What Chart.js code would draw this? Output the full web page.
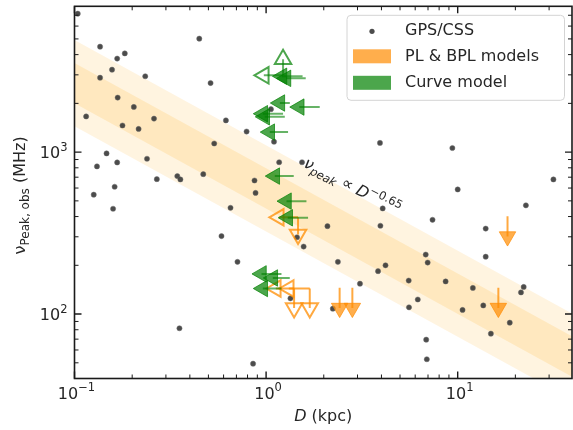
<!DOCTYPE html>
<html>
<head>
<meta charset="utf-8">
<script src="https://cdn.jsdelivr.net/npm/chart.js@4.4.1/dist/chart.umd.min.js"></script>
<style>
  html, body { margin: 0; padding: 0; background: #fff; }
</style>
</head>
<body>
<canvas id="chart" width="573" height="430"></canvas>
<script>
// GPS/CSS sources: distance (kpc) and observed peak frequency (MHz)
const gpsD = [0.104, 0.136, 0.183, 0.167, 0.157, 0.136, 0.234, 0.448, 0.513, 0.168,
              0.204, 0.115, 0.260, 0.178, 0.216, 0.617, 0.791, 0.536, 0.147, 0.167,
              0.239, 0.131, 0.269, 0.344, 0.357, 0.470, 0.162, 0.870, 0.881, 1.06,
              1.10, 0.126, 0.159, 0.652, 0.585, 0.709, 0.353, 0.855, 3.93, 9.38,
              1.17, 1.54, 31.6, 10.0, 4.06, 22.7, 7.39, 2.09, 3.95, 14.0,
              1.45, 1.57, 14.0, 6.81, 6.97, 2.37, 3.84, 4.20, 5.55, 8.65,
              3.09, 12.0, 22.1, 21.4, 6.19, 1.34, 5.57, 2.23, 10.6, 13.6,
              18.7, 14.9, 6.85, 6.90];
const gpsNu = [7160, 4480, 4070, 3780, 3230, 2880, 2940, 5020, 2670, 2170,
               1900, 1660, 1610, 1460, 1390, 1570, 1340, 1130, 982, 863,
               910, 816, 681, 711, 678, 731, 611, 668, 560, 1840,
               1160, 546, 447, 453, 303, 210, 81.7, 49.4, 1140, 1060,
               866, 866, 678, 588, 449, 469, 382, 349, 351, 337,
               298, 261, 226, 233, 208, 210, 184, 200, 161, 159,
               154, 145, 147, 136, 123, 125, 110, 108, 106, 113,
               88.5, 75.7, 69.5, 52.6];

// nu_peak ~ D^-0.65 relation, with its inner / outer scatter (dex)
const fitD = [0.1, 40];
const fitNuAt1kpc = 597;
const fitSlope = -0.65;
const innerDex = 0.125;
const outerDex = 0.266;

// Curve model: upper limits on D (arrow from D down to dTip)
const curveD   = [1.55, 1.61, 1.33, 1.905, 1.226, 1.252, 1.302, 1.394, 1.624, 1.656, 1.203, 1.329, 1.203];
const curveTip = [1.21, 1.27, 1.18, 1.49, 0.961, 0.984, 1.045, 1.110, 1.278, 1.297, 0.946, 1.084, 0.961];
const curveNu  = [2940, 2854, 2010, 1897, 1726, 1651, 1329, 711, 498, 393, 177, 167, 143.8];
// Curve model, open marker: D upper limit + nu lower limit
const curveOpenD = [1.226], curveOpenDTip = [0.973], curveOpenNu = [2980], curveOpenNuTip = [3750];

// PL & BPL models, open markers: D upper limit + nu upper limit
const plOpenD = [1.468, 1.40, 1.69], plOpenDTip = [1.165, 1.124, 1.313];
const plOpenNu = [396, 143.8, 143.8], plOpenNuTip = [310, 108.9, 108.9];
// PL & BPL models, filled: nu upper limit only
const plD = [2.42, 2.82, 16.3, 18.2];
const plNu = [145.2, 145.2, 145.2, 402];
const plNuTip = [108.9, 108.9, 108.9, 301];

const xTicks = [0.1, 1, 10];
const yTicks = [100, 1000];

const GREEN = 'rgba(0,128,0,0.7)', GREEN_LINE = 'rgba(0,128,0,0.6)';
const ORANGE = 'rgba(255,140,0,0.7)', ORANGE_LINE = 'rgba(255,140,0,0.75)';
const TXT = '#262626';
const FONT = '"DejaVu Sans", sans-serif';

const fitNu = d => fitNuAt1kpc * Math.pow(d, fitSlope);
const band = dex => fitD.map(d => ({ x: d, y: fitNu(d) * Math.pow(10, dex) }));

function arrow(p0, p1, rot, color, lineColor, filled) {
  return {
    type: 'line', data: [p0, p1], order: 1,
    borderColor: lineColor, borderWidth: 2, fill: false,
    pointStyle: 'triangle', pointRadius: [0, 9.5], pointHoverRadius: 0,
    pointRotation: [0, rot],
    pointBackgroundColor: filled ? color : 'rgba(0,0,0,0)',
    pointBorderColor: color, pointBorderWidth: filled ? 1 : 2
  };
}

const datasets = [
  { type: 'line', data: band(outerDex), borderWidth: 0, pointRadius: 0, fill: false, order: 20 },
  { type: 'line', data: band(-outerDex), borderWidth: 0, pointRadius: 0, fill: '-1',
    backgroundColor: 'rgba(255,165,0,0.12)', order: 20 },
  { type: 'line', data: band(innerDex), borderWidth: 0, pointRadius: 0, fill: false, order: 20 },
  { type: 'line', data: band(-innerDex), borderWidth: 0, pointRadius: 0, fill: '-1',
    backgroundColor: 'rgba(255,165,0,0.15)', order: 20 },
  { type: 'scatter', data: gpsD.map((d, i) => ({ x: d, y: gpsNu[i] })), order: 5,
    pointRadius: 2.6, backgroundColor: 'rgba(45,45,45,0.85)',
    borderColor: 'rgba(110,110,110,0.8)', borderWidth: 0.6 }
];

curveD.forEach((d, i) => datasets.push(
  arrow({ x: d, y: curveNu[i] }, { x: curveTip[i], y: curveNu[i] }, 270, GREEN, GREEN_LINE, true)));
curveOpenD.forEach((d, i) => {
  datasets.push(arrow({ x: d, y: curveOpenNu[i] }, { x: curveOpenDTip[i], y: curveOpenNu[i] }, 270, GREEN, GREEN_LINE, false));
  datasets.push(arrow({ x: d, y: curveOpenNu[i] }, { x: d, y: curveOpenNuTip[i] }, 0, GREEN, GREEN_LINE, false));
});
plOpenD.forEach((d, i) => {
  datasets.push(arrow({ x: d, y: plOpenNu[i] }, { x: plOpenDTip[i], y: plOpenNu[i] }, 270, ORANGE_LINE, ORANGE_LINE, false));
  datasets.push(arrow({ x: d, y: plOpenNu[i] }, { x: d, y: plOpenNuTip[i] }, 180, ORANGE_LINE, ORANGE_LINE, false));
});
plD.forEach((d, i) => datasets.push(
  arrow({ x: d, y: plNu[i] }, { x: d, y: plNuTip[i] }, 180, ORANGE, ORANGE_LINE, true)));

const exp10 = v => String(Math.round(Math.log10(v))).replace('-', '\u2212');

function drawRun(ctx, parts, x, y) {
  parts.forEach(p => {
    ctx.font = p.font;
    ctx.fillText(p.t, x, y + (p.dy || 0));
    x += ctx.measureText(p.t).width;
  });
}
function runWidth(ctx, parts) {
  return parts.reduce((w, p) => { ctx.font = p.font; return w + ctx.measureText(p.t).width; }, 0);
}
const decadeParts = v => [
  { t: '10', font: `16px ${FONT}` },
  { t: exp10(v), font: `11.5px ${FONT}`, dy: -7.5 }
];

const framePlugin = {
  id: 'frame',
  afterDatasetsDraw(chart) {
    const { ctx, scales: { x, y } } = chart;
    // relation label, laid along the band
    const px = x.getPixelForValue(1.554), py = y.getPixelForValue(816);
    ctx.save();
    ctx.translate(px, py);
    ctx.rotate(27.5 * Math.PI / 180);
    ctx.fillStyle = TXT;
    ctx.textBaseline = 'alphabetic';
    drawRun(ctx, [
      { t: '\u03BD', font: `italic 16px ${FONT}` },
      { t: 'peak', font: `italic 11.5px ${FONT}`, dy: 3.5 },
      { t: ' \u221D ', font: `16px ${FONT}` },
      { t: 'D', font: `italic 16px ${FONT}` },
      { t: '\u22120.65', font: `11.5px ${FONT}`, dy: -7 }
    ], 0, 0);
    ctx.restore();
  },
  afterDraw(chart) {
    const { ctx, chartArea: a, scales: { x, y } } = chart;
    ctx.save();
    // spines
    ctx.strokeStyle = '#1a1a1a';
    ctx.lineWidth = 1.6;
    ctx.strokeRect(a.left, a.top, a.right - a.left, a.bottom - a.top);
    // inward ticks on all four sides
    const tick = (p, len, w, horiz) => {
      ctx.lineWidth = w;
      ctx.beginPath();
      if (horiz) {
        ctx.moveTo(p, a.bottom); ctx.lineTo(p, a.bottom - len);
        ctx.moveTo(p, a.top); ctx.lineTo(p, a.top + len);
      } else {
        ctx.moveTo(a.left, p); ctx.lineTo(a.left + len, p);
        ctx.moveTo(a.right, p); ctx.lineTo(a.right - len, p);
      }
      ctx.stroke();
    };
    [[x, true], [y, false]].forEach(([s, horiz]) => {
      for (let k = -2; k <= 4; k++) {
        for (let m = 1; m <= 9; m++) {
          const v = m * Math.pow(10, k);
          if (v < s.min * 0.999 || v > s.max * 1.001) continue;
          tick(s.getPixelForValue(v), m === 1 ? 7 : 4, m === 1 ? 1.4 : 1, horiz);
        }
      }
    });
    // tick labels as 10^n
    ctx.fillStyle = TXT;
    ctx.textBaseline = 'alphabetic';
    xTicks.forEach(v => {
      const parts = decadeParts(v);
      drawRun(ctx, parts, x.getPixelForValue(v) - runWidth(ctx, parts) / 2 + 2, a.bottom + 20);
    });
    yTicks.forEach(v => {
      const parts = decadeParts(v);
      drawRun(ctx, parts, a.left - 7 - runWidth(ctx, parts), y.getPixelForValue(v) + 6);
    });
    // axis titles
    const xt = [{ t: 'D', font: `italic 16px ${FONT}` }, { t: ' (kpc)', font: `16px ${FONT}` }];
    drawRun(ctx, xt, (a.left + a.right) / 2 - runWidth(ctx, xt) / 2, 421);
    const yt = [
      { t: '\u03BD', font: `16px ${FONT}` },
      { t: 'Peak, obs', font: `12px ${FONT}`, dy: 3.5 },
      { t: ' (MHz)', font: `16px ${FONT}` }
    ];
    ctx.save();
    ctx.translate(25, (a.top + a.bottom) / 2 + 3);
    ctx.rotate(-Math.PI / 2);
    drawRun(ctx, yt, -runWidth(ctx, yt) / 2, 0);
    ctx.restore();
    // legend
    const lx = a.right - 225, ly = a.top + 9, lw = 217.5, lh = 85;
    ctx.beginPath();
    ctx.roundRect(lx, ly, lw, lh, 4);
    ctx.fillStyle = 'rgba(255,255,255,0.85)';
    ctx.fill();
    ctx.strokeStyle = '#d4d4d4';
    ctx.lineWidth = 1;
    ctx.stroke();
    ctx.fillStyle = 'rgba(45,45,45,0.85)';
    ctx.beginPath();
    ctx.arc(lx + 25, ly + 16, 2.6, 0, Math.PI * 2);
    ctx.fill();
    ctx.fillStyle = ORANGE;
    ctx.fillRect(lx + 6, ly + 34, 38, 14);
    ctx.fillStyle = GREEN;
    ctx.fillRect(lx + 6, ly + 60.5, 38, 14);
    ctx.fillStyle = TXT;
    ctx.font = `16px ${FONT}`;
    ctx.textBaseline = 'middle';
    ctx.fillText('GPS/CSS', lx + 58, ly + 16);
    ctx.fillText('PL & BPL models', lx + 58, ly + 42);
    ctx.fillText('Curve model', lx + 58, ly + 68);
    ctx.restore();
  }
};

new Chart(document.getElementById('chart'), {
  data: { datasets },
  options: {
    responsive: false,
    animation: false,
    events: [],
    layout: { autoPadding: false, padding: { top: 6.3, right: 1, left: 0, bottom: 0 } },
    plugins: { legend: { display: false }, tooltip: { enabled: false } },
    scales: {
      x: {
        type: 'logarithmic', min: 0.1, max: 39.5,
        grid: { display: false, drawTicks: false }, border: { display: false },
        ticks: { display: false },
        afterBuildTicks: s => { s.ticks = xTicks.map(v => ({ value: v })); },
        afterFit: s => { s.height = 51.5; s.paddingLeft = 0; s.paddingRight = 0; }
      },
      y: {
        type: 'logarithmic', min: 40, max: 7950,
        grid: { display: false, drawTicks: false }, border: { display: false },
        ticks: { display: false },
        afterBuildTicks: s => { s.ticks = yTicks.map(v => ({ value: v })); },
        afterFit: s => { s.width = 74.5; s.paddingTop = 0; s.paddingBottom = 0; }
      }
    }
  },
  plugins: [framePlugin]
});
</script>
</body>
</html>
